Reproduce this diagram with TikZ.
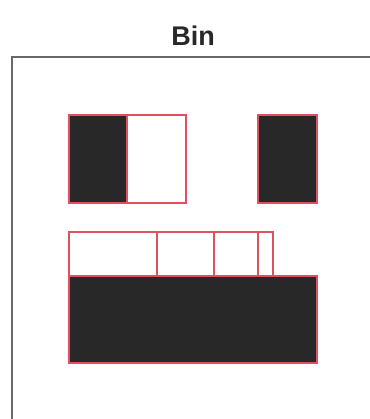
\documentclass[tikz,border=0pt]{standalone}
\usepackage{fontspec}
\setmainfont{Liberation Sans}
\definecolor{edge}{RGB}{225,80,95}
\definecolor{ink}{RGB}{40,40,40}
\definecolor{frame}{RGB}{105,105,105}
\begin{document}
\begin{tikzpicture}[x=1pt,y=-1pt,
  cell/.style={draw=edge,line width=1.1pt},
  full/.style={cell,fill=ink},
  empty/.style={cell,fill=white}]
\useasboundingbox (0,0) rectangle (369,419);
\node[font=\bfseries\fontsize{27}{30}\selectfont,text=ink,inner sep=0pt,anchor=base] (title) at (193,46) {Bin};
\draw[frame,line width=2pt] (12,421) -- (12,57) -- (371,57);
\draw[full] (69,115) rectangle (127,203);
\draw[empty] (127,115) rectangle (186,203);
\draw[full] (258,115) rectangle (317,203);
\draw[empty] (69,232) rectangle (157,276);
\draw[empty] (157,232) rectangle (214,276);
\draw[empty] (214,232) rectangle (258,276);
\draw[empty] (258,232) rectangle (273,276);
\draw[full] (69,276) rectangle (317,363);
\end{tikzpicture}
\end{document}
